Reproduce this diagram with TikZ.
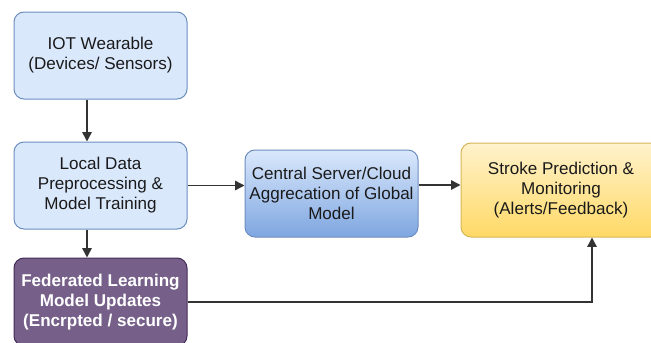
\documentclass[tikz,border=0pt]{standalone}
\usepackage{fontspec}
\setmainfont{Liberation Sans}
\usetikzlibrary{arrows.meta}
\definecolor{lbfill}{HTML}{DAE8FC}
\definecolor{lbdraw}{HTML}{6C8EBF}
\definecolor{lbdark}{HTML}{7EA6E0}
\definecolor{pufill}{HTML}{76608A}
\definecolor{pudraw}{HTML}{432D57}
\definecolor{yelight}{HTML}{FFF2CC}
\definecolor{yedark}{HTML}{FFD966}
\definecolor{yedraw}{HTML}{D6B656}
\definecolor{txt}{HTML}{1A1A1A}
\tikzset{
  box/.style={rectangle, rounded corners=7.5pt, line width=0.75pt, align=center,
    font=\fontsize{12.8pt}{15pt}\selectfont, text=txt, inner sep=0pt},
  bluebox/.style={box, draw=lbdraw, fill=lbfill},
  gradbox/.style={box, draw=lbdraw, top color=lbfill, bottom color=lbdark},
  yellowbox/.style={box, draw=yedraw, top color=yelight, bottom color=yedark},
  purplebox/.style={box, draw=pudraw, fill=pufill, text=white, font=\fontsize{12.8pt}{15pt}\selectfont\bfseries},
  conn/.style={draw=black!80, line width=1.1pt, -{Triangle[length=7pt,width=7pt]}},
}
\begin{document}
\begin{tikzpicture}[x=0.75pt,y=-0.75pt]
\useasboundingbox (0,0) rectangle (651,343);
\node[bluebox, minimum width=173*0.75pt, minimum height=87*0.75pt] (iot) at (100.5,55.5) {IOT Wearable\\(Devices/ Sensors)};
\node[bluebox, minimum width=173*0.75pt, minimum height=87*0.75pt] (local) at (100.5,185.5) {Local Data\\Preprocessing \&\\Model Training};
\node[purplebox, minimum width=173*0.75pt, minimum height=88*0.75pt] (fed) at (100.5,302) {Federated Learning\\Model Updates\\(Encrpted / secure)};
\node[gradbox, minimum width=173*0.75pt, minimum height=87*0.75pt] (central) at (331.5,193.5) {Central Server/Cloud\\Aggrecation of Global\\Model};
\node[yellowbox, minimum width=200*0.75pt, minimum height=94*0.75pt] (stroke) at (561,190) {Stroke Prediction \&\\Monitoring\\(Alerts/Feedback)};
\coordinate (ax) at (87,0);
\draw[conn] (iot.south -| ax) -- (local.north -| ax);
\draw[conn] (local.south -| ax) -- (fed.north -| ax);
\draw[conn] (local.east) -- (central.west |- local.east);
\draw[conn] (central.east |- 0,185) -- (stroke.west |- 0,185);
\coordinate (bend) at (592,302);
\draw[conn] (fed.east) -- (bend) -- (stroke.south -| bend);
\end{tikzpicture}
\end{document}
